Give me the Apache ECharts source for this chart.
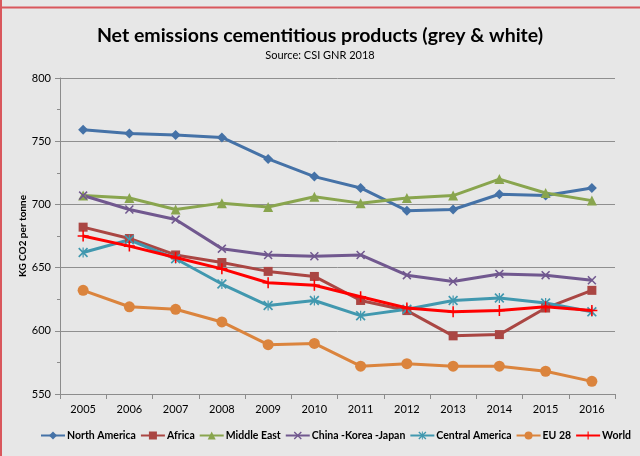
<!DOCTYPE html>
<html>
<head>
<meta charset="utf-8">
<script src="https://cdn.jsdelivr.net/npm/echarts@6/dist/echarts.min.js"></script>
<style>
  html, body { margin: 0; padding: 0; background: #e7e7e7; }
  #chart { width: 640px; height: 456px; }
</style>
</head>
<body>
<div id="chart"></div>
<script>
// Net CO2 emissions per tonne of cementitious product, by region
const years = ['2005','2006','2007','2008','2009','2010','2011','2012','2013','2014','2015','2016'];
const northAmerica   = [759, 756, 755, 753, 736, 722, 713, 695, 696, 708, 707, 713];
const africa         = [682, 673, 660, 654, 647, 643, 624, 616, 596, 597, 618, 632];
const middleEast     = [707, 705, 696, 701, 698, 706, 701, 705, 707, 720, 709, 703];
const chinaKoreaJapan= [707, 696, 688, 665, 660, 659, 660, 644, 639, 645, 644, 640];
const centralAmerica = [662, 672, 657, 637, 620, 624, 612, 617, 624, 626, 622, 615];
const eu28           = [632, 619, 617, 607, 589, 590, 572, 574, 572, 572, 568, 560];
const world          = [675, 667, 658, 649, 638, 636, 627, 618, 615, 616, 619, 616];
const yTicks = [550, 600, 650, 700, 750, 800];

const X_PATH = 'path://M0,1.2 L1.2,0 L5,3.8 L8.8,0 L10,1.2 L6.2,5 L10,8.8 L8.8,10 L5,6.2 L1.2,10 L0,8.8 L3.8,5 Z';
const PLUS_PATH = 'path://M4.3,0 H5.7 V4.3 H10 V5.7 H5.7 V10 H4.3 V5.7 H0 V4.3 H4.3 Z';
const STAR_PATH = 'path://M0,1.2 L1.2,0 L4.4,3.2 L4.4,0 L5.6,0 L5.6,3.2 L8.8,0 L10,1.2 L6.2,5 L10,8.8 L8.8,10 L5.6,6.8 L5.6,10 L4.4,10 L4.4,6.8 L1.2,10 L0,8.8 L3.8,5 Z';

function line(name, data, color, symbol, size, z) {
  return {
    name: name,
    type: 'line',
    data: data,
    symbol: symbol,
    symbolSize: size,
    z: z,
    lineStyle: { color: color, width: 3 },
    itemStyle: { color: color },
    emphasis: { disabled: true }
  };
}

const chart = echarts.init(document.getElementById('chart'), null, { renderer: 'canvas' });
chart.setOption({
  animation: false,
  backgroundColor: '#e7e7e7',
  textStyle: { fontFamily: 'Lato, "Open Sans", sans-serif' },
  title: {
    text: 'Net emissions cementitious products (grey & white)',
    subtext: 'Source: CSI GNR 2018',
    left: 'center',
    top: 21,
    itemGap: 4,
    textStyle: { fontSize: 19.5, fontWeight: 'bold', color: '#000', fontFamily: 'Lato, sans-serif' },
    subtextStyle: { fontSize: 11, color: '#000', fontFamily: 'Lato, sans-serif' }
  },
  graphic: [
    { type: 'line', shape: { x1: 0, y1: 7.5, x2: 640, y2: 7.5 }, style: { stroke: '#d9575c', lineWidth: 2 }, silent: true },
    { type: 'line', shape: { x1: 1, y1: 0, x2: 1, y2: 456 }, style: { stroke: '#d9575c', lineWidth: 2 }, silent: true }
  ],
  grid: { left: 60, right: 25, top: 78, bottom: 62 },
  legend: {
    bottom: 10,
    left: 35,
    itemGap: 4,
    itemWidth: 24,
    itemHeight: 10,
    textStyle: { fontSize: 10.5, fontWeight: 'bold', color: '#000', padding: [0, 0, 0, -3] },
    data: ['North America', 'Africa', 'Middle East', 'China -Korea -Japan', 'Central America', 'EU 28', 'World']
  },
  xAxis: {
    type: 'category',
    data: years,
    boundaryGap: true,
    axisLine: { lineStyle: { color: '#8c8c8c', width: 1 } },
    axisTick: { show: true, lineStyle: { color: '#8c8c8c' }, length: 5 },
    axisLabel: { color: '#000', fontSize: 11, margin: 10 }
  },
  yAxis: {
    type: 'value',
    min: yTicks[0],
    max: yTicks[yTicks.length - 1],
    interval: 50,
    name: 'KG CO2 per tonne',
    nameLocation: 'middle',
    nameGap: 32,
    nameMoveOverlap: false,
    nameTextStyle: { fontSize: 10, fontWeight: 'bold', color: '#000' },
    axisLine: { show: true, lineStyle: { color: '#8c8c8c' } },
    axisTick: { show: true, length: 5, lineStyle: { color: '#8c8c8c' } },
    minorTick: { show: true, splitNumber: 2, length: 3, lineStyle: { color: '#8c8c8c' } },
    axisLabel: { color: '#000', fontSize: 11, margin: 9 },
    splitLine: { show: true, lineStyle: { color: '#8f8f8f', width: 1 } }
  },
  series: [
    line('North America', northAmerica, '#4572a7', 'diamond', 10, 2),
    line('Africa', africa, '#aa4643', 'rect', 9, 2),
    line('Middle East', middleEast, '#89a54e', 'triangle', 10, 2),
    line('China -Korea -Japan', chinaKoreaJapan, '#71588f', X_PATH, 9, 2),
    line('Central America', centralAmerica, '#4198af', STAR_PATH, 10, 2),
    line('EU 28', eu28, '#db843d', 'circle', 11, 2),
    line('World', world, '#ff0000', PLUS_PATH, 11, 3)
  ]
});
</script>
</body>
</html>
